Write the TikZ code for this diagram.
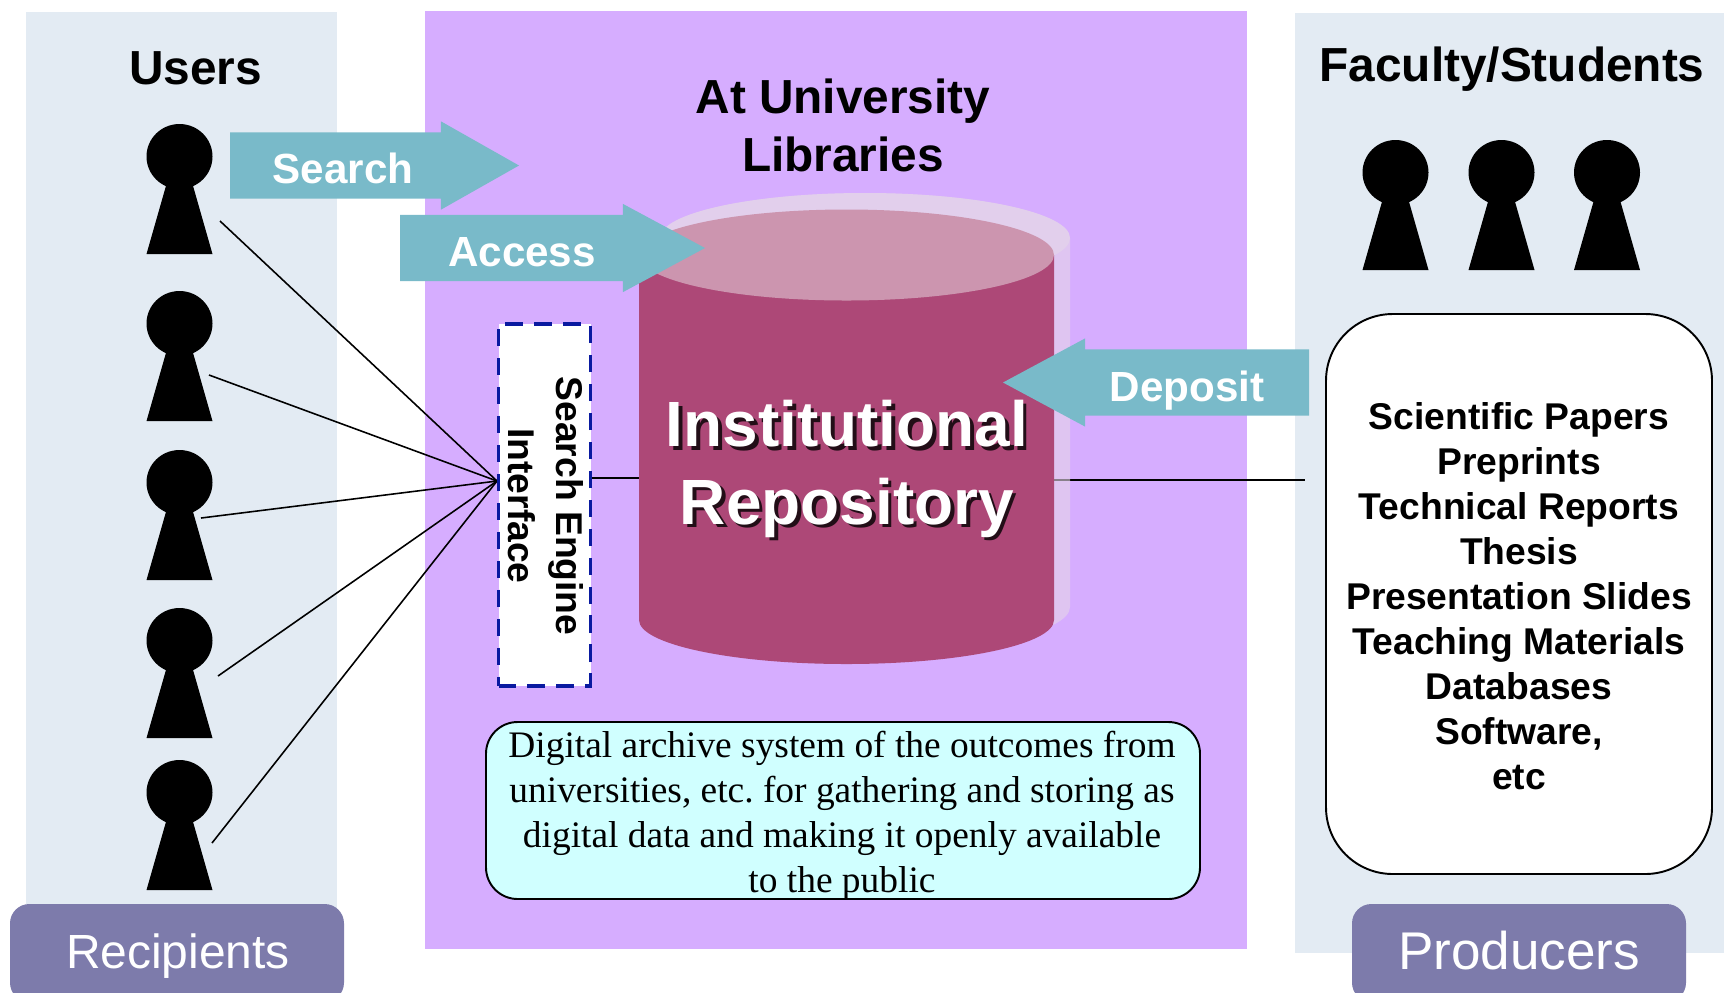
\documentclass[tikz,border=0pt]{standalone}
\usepackage{fontspec}
\setmainfont{Liberation Sans}
\newfontfamily\serifface{Liberation Serif}
\usetikzlibrary{shapes.arrows}
\definecolor{panelblue}{HTML}{E3EBF3}
\definecolor{panelpurple}{HTML}{D6ADFF}
\definecolor{arrowteal}{HTML}{79BAC9}
\definecolor{cylside}{HTML}{AD4877}
\definecolor{cyltop}{HTML}{CC95AF}
\definecolor{cylghost}{HTML}{E5D6E9}
\definecolor{tagviolet}{HTML}{7D7BAB}
\definecolor{dashnavy}{HTML}{0A1AA0}
\definecolor{notecyan}{HTML}{D0FFFF}
\tikzset{
  title/.style={font=\fontsize{27.2}{33}\selectfont\bfseries, align=center},
  flow/.style={single arrow, fill=arrowteal, anchor=tail, inner xsep=0pt, inner ysep=32.8*0.02cm, outer sep=0pt,
    minimum height=#1, single arrow head extend=11*0.02cm, single arrow head indent=0pt},
  flowtext/.style={font=\fontsize{24}{28}\selectfont\bfseries, text=white},
  tag/.style={fill=tagviolet, rounded corners=11pt},
  tagtext/.style={font=\fontsize{#1}{32}\selectfont, text=white},
  wire/.style={line width=0.9pt},
  person/.pic={
    \fill (0,32.5) ellipse [x radius=33, y radius=32.5];
    \fill (-13,60) -- (13,60) -- (33,130) -- (-33,130) -- cycle;
  }
}
\begin{document}
\begin{tikzpicture}[x=0.02cm,y=-0.02cm]
  \useasboundingbox (0,0) rectangle (1724,992);
  \clip (0,0) rectangle (1724,992);
  \def \Users{
    1/124/220/221,
    2/291/209/375,
    3/450/201/518,
    4/608/218/676,
    5/760/212/843}
  \def \Makers{
    1/1395.5,
    2/1501.5,
    3/1607}
  \fill[panelblue] (26,12) rectangle (337,910);
  \fill[panelblue] (1295,13) rectangle (1724,953);
  \fill[panelpurple] (425,11) rectangle (1247,949);

  \coordinate (hub) at (497,481);
  \coordinate (wireend) at (1305,480);
  \coordinate (cylright) at (1054,480);
  \coordinate (cylleft) at (639,478);
  \draw[wire] (cylright) -- (wireend);

  \fill[cylghost, opacity=0.6] (660,238) arc [start angle=180, end angle=360, x radius=205, y radius=45]
    -- (1070,607) arc [start angle=0, end angle=90, x radius=205, y radius=45] -- (865,238) -- cycle;
  \fill[cylghost, opacity=0.6] (865,238) ellipse [x radius=205, y radius=45];
  \fill[cylside] (639,255) -- (1054,255) -- (1054,620) arc [start angle=0, end angle=180, x radius=207.5, y radius=44] -- cycle;
  \fill[cyltop] (846.5,255) ellipse [x radius=207.5, y radius=45.5];

  \foreach \id / \y / \x / \yy in \Users{
    \pic at (179.5, \y) {person};
    \coordinate (user\id) at (\x, \yy);
  }
  \foreach \id / \x in \Makers{
    \pic at (\x, 140) {person};
  }
  \foreach \id / \y / \x / \yy in \Users{
    \draw[wire] (user\id) -- (hub);
  }

  \node[flow=289*0.02cm, single arrow tip angle=59] (searcharrow) at (230,165.5) {};
  \node[flow=305*0.02cm, single arrow tip angle=56.5] (accessarrow) at (400,248) {};
  \node[flow=306*0.02cm, single arrow tip angle=56.5, shape border rotate=180] (depositarrow) at (1309,382.5) {};
  \node[flowtext] (search) at (343,168) {Search};
  \node[flowtext] (access) at (522,252) {Access};
  \node[flowtext] (deposit) at (1187,391) {Deposit};

  \node[title] (users) at (195.5,68) {Users};
  \node[title] (faculty) at (1512,69) {Faculty/Students};
  \node[title] (libraries) at (843,125) {At University\\Libraries};

  \node[draw=dashnavy, fill=white, line width=2.2pt, dash pattern=on 10pt off 6.5pt,
    minimum width=92*0.02cm, minimum height=362*0.02cm, inner sep=0pt] (engine) at (544.5,505) {};
  \node[rotate=-90, font=\fontsize{21.2}{27}\selectfont\bfseries, align=center] (enginetext) at (546,506) {Search Engine\\Interface};
  \draw[wire] (engine.east |- cylleft) -- (cylleft);

  \node[font=\fontsize{36.4}{44}\selectfont\bfseries, text=black, opacity=0.8, align=center] (shadowlabel) at (850.5,472.5) {Institutional\\Repository};
  \node[font=\fontsize{36.4}{44}\selectfont\bfseries, text=white, align=center] (repository) at (847,469) {Institutional\\Repository};

  \draw[fill=white, line width=1.1pt, rounded corners=38pt] (1326,314) rectangle (1712,874);
  \node[font=\fontsize{21.2}{25.6}\selectfont\bfseries, align=center] (outputs) at (1519,596)
    {Scientific Papers\\Preprints\\Technical Reports\\Thesis\\Presentation Slides\\Teaching Materials\\Databases\\Software,\\etc};

  \draw[fill=notecyan, line width=1.1pt, rounded corners=18pt] (486,722) rectangle (1200,899);
  \node[font=\serifface\fontsize{21.3}{25.6}\selectfont\frenchspacing, align=center] (note) at (842,816)
    {Digital archive system of the outcomes from\\universities, etc. for gathering and storing as\\digital data and making it openly available\\to the public};

  \fill[tag] (10,904) rectangle (344,1002);
  \fill[tag] (1352,904) rectangle (1686,1002);
  \node[tagtext=27.3] (recipients) at (178,956) {Recipients};
  \node[tagtext=30.2] (producers) at (1519,951) {Producers};
\end{tikzpicture}
\end{document}
